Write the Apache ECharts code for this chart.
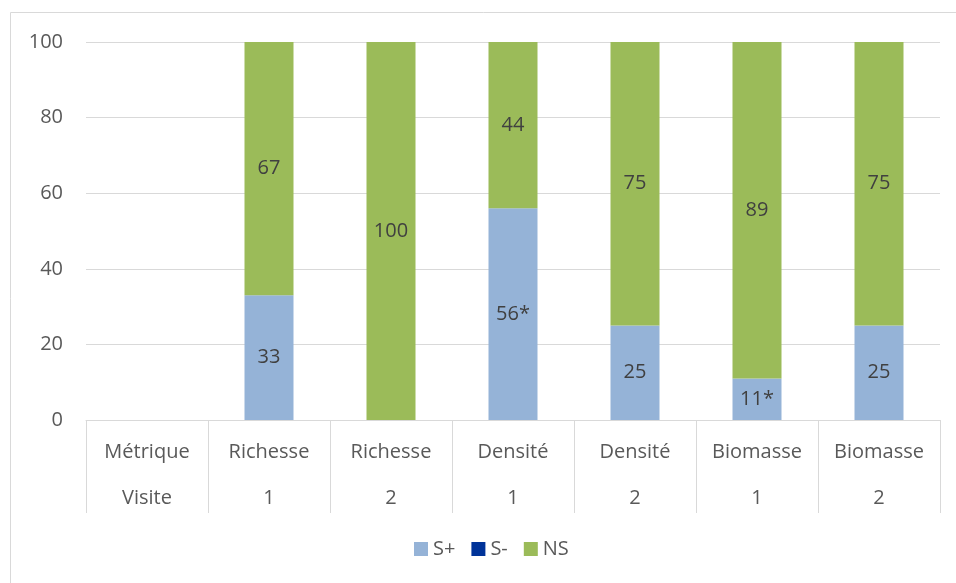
<!DOCTYPE html>
<html><head><meta charset="utf-8">
<script src="https://cdn.jsdelivr.net/npm/echarts@6/dist/echarts.min.js"></script>
<style>html,body{margin:0;padding:0;background:#fff}#c{width:956px;height:583px}</style>
</head><body><div id="c"></div>
<script>
const metriques = ["Métrique","Richesse","Richesse","Densité","Densité","Biomasse","Biomasse"];
const visites = ["Visite","1","2","1","2","1","2"];
const sPlus = [null,33,0,56,25,11,25];
const sMoins = [null,0,0,0,0,0,0];
const ns = [null,67,100,44,75,89,75];
const sPlusLabels = ["","33","","56*","25","11*","25"];
const nsLabels = ["","67","100","44","75","89","75"];
const yTicks = [0,20,40,60,80,100];

const cats = metriques.map((m,i)=>m+"\n"+visites[i]);
const font = "Open Sans";
const chart = echarts.init(document.getElementById('c'));
const lbl = (arr)=>({show:true,position:'inside',color:'#404040',fontSize:20,fontFamily:font,
  formatter:p=>arr[p.dataIndex]});
chart.setOption({
  animation:false,
  textStyle:{fontFamily:font},
  graphic:[{type:'rect',shape:{x:10.5,y:12.5,width:1000,height:700},style:{fill:'none',stroke:'#d9d9d9',lineWidth:1},silent:true}],
  grid:{left:86,right:16,top:42,bottom:163,containLabel:false},
  legend:{bottom:19,left:409,itemWidth:14,itemHeight:14,itemGap:16,
    icon:'rect',textStyle:{color:'#595959',fontSize:20,fontFamily:font,padding:[0,0,0,0]},
    data:['S+','S-','NS']},
  xAxis:{type:'category',data:cats,
    axisLine:{show:true,lineStyle:{color:'#d9d9d9',width:1}},
    axisTick:{show:true,length:93,interval:0,lineStyle:{color:'#d9d9d9',width:1}},
    axisLabel:{interval:0,color:'#595959',fontSize:20,fontFamily:font,lineHeight:46,margin:9}},
  yAxis:{type:'value',min:0,max:100,interval:20,
    axisLine:{show:false},axisTick:{show:false},
    splitLine:{lineStyle:{color:'#d9d9d9',width:1}},
    axisLabel:{color:'#595959',fontSize:20,fontFamily:font,margin:23,
      formatter:v=>yTicks.includes(v)?String(v):''}},
  series:[
    {name:'S+',type:'bar',stack:'a',barWidth:49,data:sPlus,itemStyle:{color:'#95b3d7'},label:lbl(sPlusLabels)},
    {name:'S-',type:'bar',stack:'a',barWidth:49,data:sMoins,itemStyle:{color:'#003399'}},
    {name:'NS',type:'bar',stack:'a',barWidth:49,data:ns,itemStyle:{color:'#9bbb59'},label:lbl(nsLabels)}
  ]
});
</script></body></html>
